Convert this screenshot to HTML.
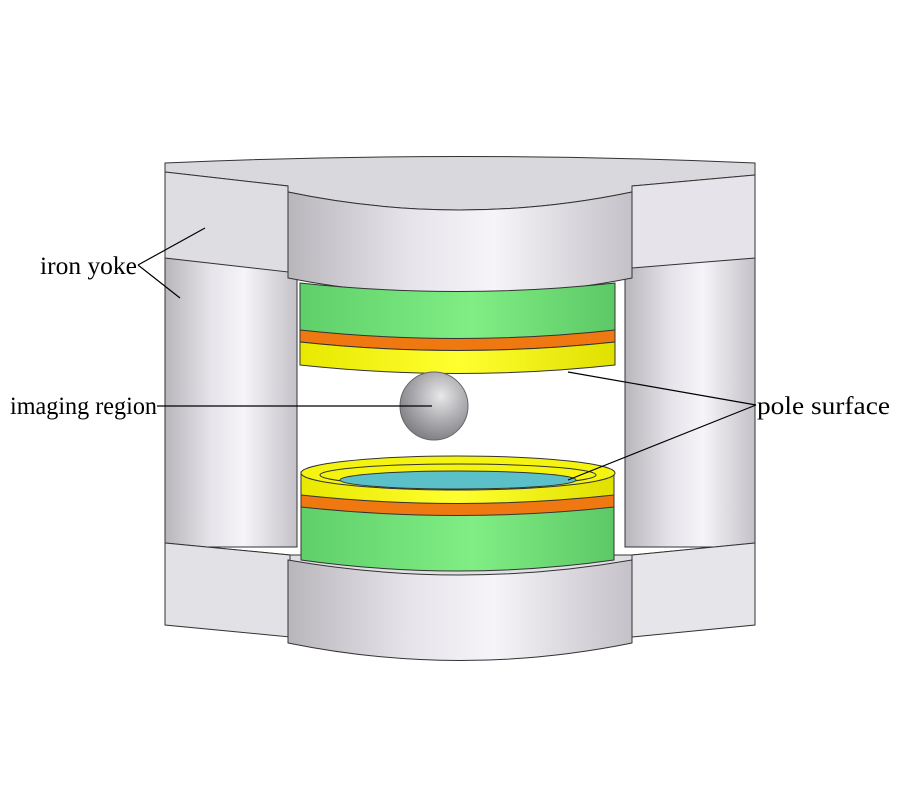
<!DOCTYPE html>
<html><head><meta charset="utf-8"><style>
html,body{margin:0;padding:0;background:#fff;}
svg{display:block}
text{font-family:"Liberation Serif",serif;font-size:25px;fill:#000}
</style></head><body>
<svg width="900" height="800" viewBox="0 0 900 800">
<defs>
<linearGradient id="cyl" x1="0" x2="1" y1="0" y2="0">
<stop offset="0" stop-color="#b8b6bb"/><stop offset="0.35" stop-color="#e6e4ea"/><stop offset="0.6" stop-color="#f6f4f8"/><stop offset="1" stop-color="#c4c2c8"/></linearGradient>
<linearGradient id="grn" x1="0" x2="1"><stop offset="0" stop-color="#5fcf6a"/><stop offset="0.55" stop-color="#80ee84"/><stop offset="1" stop-color="#5cc866"/></linearGradient>
<linearGradient id="yel" x1="0" x2="1"><stop offset="0" stop-color="#e8e800"/><stop offset="0.5" stop-color="#ffff30"/><stop offset="1" stop-color="#e0e000"/></linearGradient>
<radialGradient id="sph" cx="0.6" cy="0.35" r="0.7"><stop offset="0" stop-color="#e8e8ea"/><stop offset="0.5" stop-color="#b0b0b4"/><stop offset="1" stop-color="#7c7c80"/></radialGradient>
</defs>
<g stroke="#333" stroke-width="1">
<!-- pillars -->
<rect x="165" y="255" width="132" height="292" fill="url(#cyl)"/>
<rect x="625" y="255" width="130" height="292" fill="url(#cyl)"/>
<!-- top yoke -->
<path d="M165,163 Q460,150 755,163 L755,175 L632,186 L632,192 Q460,228 288,192 L288,186 L165,172Z" fill="#d9d8dd"/>
<path d="M165,172 L288,186 L288,272 L165,258Z" fill="#dedde2"/>
<path d="M755,175 L632,186 L632,268 L755,258Z" fill="#e6e3ea"/>
<path d="M288,192 Q460,228 632,192 L632,278 Q460,312 288,278Z" fill="url(#cyl)"/>
<!-- upper coil -->
<path d="M300,283 Q458,300 615,283 L615,340 Q458,357 300,340Z" fill="url(#grn)"/>
<path d="M300,330 Q458,347 615,330 L615,342 Q458,359 300,342Z" fill="#f07810"/>
<path d="M300,342 Q458,359 615,342 L615,365 Q458,382 300,365Z" fill="url(#yel)"/>
<!-- sphere -->
<circle cx="434" cy="406" r="34" fill="url(#sph)" stroke="#666"/>
<!-- bottom yoke -->
<path d="M165,543 L290,555 L632,555 L755,543 L755,610 L632,625 L632,640 L290,640 L290,625 L165,612Z" fill="#e0dfe4"/>
<path d="M165,543 L290,555 L290,637 L165,625Z" fill="#e2e1e6"/>
<path d="M755,543 L632,555 L632,637 L755,625Z" fill="#e6e5ea"/>
<path d="M288,560 Q460,590 632,560 L632,643 Q460,678 288,643Z" fill="url(#cyl)"/>
<!-- lower coil -->
<path d="M301,505 Q458,522 614,505 L614,560 Q458,582 301,560Z" fill="url(#grn)"/>
<path d="M301,493 Q458,510 614,493 L614,507 Q458,524 301,507Z" fill="#f07810"/>
<path d="M301,472 L614,472 L614,495 Q458,512 301,495Z" fill="url(#yel)"/>
<ellipse cx="458" cy="473" rx="157" ry="17" fill="#f4f410"/>
<ellipse cx="458" cy="475" rx="138" ry="11" fill="none"/>
<ellipse cx="458" cy="480" rx="118" ry="9" fill="#5cc0c8"/>
</g>
<!-- leader lines -->
<g stroke="#000" stroke-width="1.2" fill="none">
<line x1="138" y1="265" x2="205" y2="228"/>
<line x1="138" y1="265" x2="180" y2="298"/>
<line x1="157" y1="406" x2="432" y2="406"/>
<line x1="756" y1="405" x2="568" y2="372"/>
<line x1="756" y1="405" x2="568" y2="480"/>
</g>
<text x="40" y="274" textLength="97" lengthAdjust="spacingAndGlyphs">iron yoke</text>
<text x="10" y="414" textLength="147" lengthAdjust="spacingAndGlyphs">imaging region</text>
<text x="757" y="414" textLength="133" lengthAdjust="spacingAndGlyphs">pole surface</text>
</svg>
</body></html>
